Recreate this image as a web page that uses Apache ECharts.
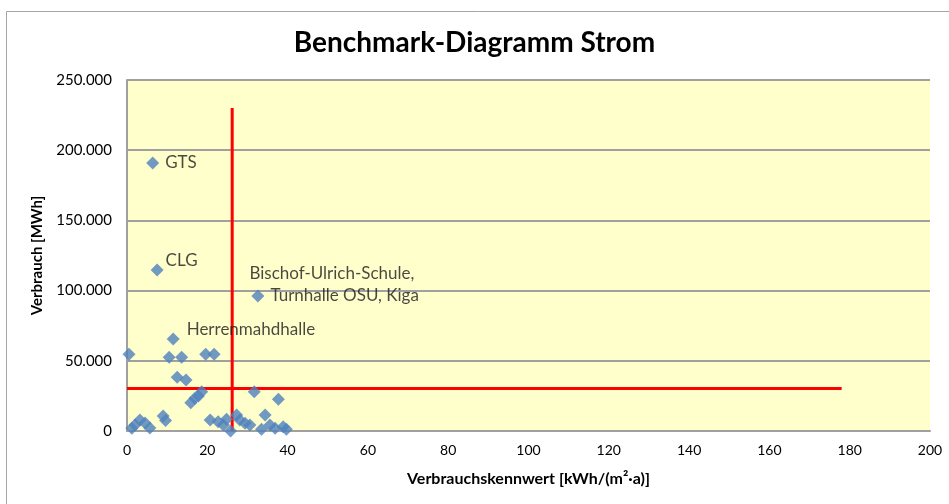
<!DOCTYPE html>
<html><head><meta charset="utf-8">
<script src="https://cdn.jsdelivr.net/npm/echarts@6/dist/echarts.min.js"></script>
<style>html,body{margin:0;padding:0;background:#fff}#c{width:949px;height:504px}</style>
</head><body><div id="c"></div>
<script>
// Data
const kennwert = [0.5,11.5,10.5,13.6,19.6,21.7,12.5,14.7,15.9,16.9,17.8,18.6,9.0,9.6,1.2,2.0,3.2,4.5,5.7,20.7,22.7,24.0,24.8,25.8,27.3,28.1,29.4,30.6,31.7,37.7,34.4,33.5,35.6,36.9,38.9,39.7,6.4,7.5,32.6];
const verbrauch = [54600,65500,52500,52500,54600,54600,38200,36300,20200,23300,25000,28000,10700,7400,2000,4300,7800,5700,2100,7800,6600,4300,8300,0,11400,7800,5500,4300,28000,22600,11400,1200,4300,1900,3000,1200,190900,114700,96200];
const namen = ['', 'Herrenmahdhalle','','','','','','','','','','','','','','','','','','','','','','','','','','','','','','','','','','','GTS','CLG','Bischof-Ulrich-Schule,|Turnhalle OSU, Kiga'];
const grenzKennwert = [[26.2,0],[26.2,230000]];
const grenzVerbrauch = [[0,30300],[178,30300]];
const xTicks = [0,20,40,60,80,100,120,140,160,180,200];
const yTicks = [0,50000,100000,150000,200000,250000];

const FONT = 'Lato, sans-serif';
const labelPos = {
  'GTS': [19, 6.5],
  'CLG': [15, -3],
  'Herrenmahdhalle': [20, -3],
  'Bischof-Ulrich-Schule,|Turnhalle OSU, Kiga': [-2, -5]
};

const pts = kennwert.map((x,i)=>{
  const item = {value:[x, verbrauch[i]], name: namen[i]};
  if (namen[i]) {
    const parts = namen[i].split('|');
    const lbl = {show:true, position: labelPos[namen[i]], align:'left', verticalAlign:'middle',
      color:'#1a1a1a', fontSize:17, fontFamily:FONT, lineHeight:22};
    if (parts.length > 1) {
      lbl.formatter = '{a|' + parts[0] + '}\n{b|' + parts[1] + '}';
      lbl.rich = {a:{fontSize:17, fontFamily:FONT, color:'#1a1a1a', lineHeight:22},
                  b:{fontSize:17, fontFamily:FONT, color:'#1a1a1a', lineHeight:22, padding:[0,0,0,21]}};
    } else {
      lbl.formatter = '{b}';
    }
    item.label = lbl;
  }
  return item;
});

const fmt = v => String(v).replace(/\B(?=(\d{3})+(?!\d))/g, '.');

const chart = echarts.init(document.getElementById('c'));
chart.setOption({
  animation:false,
  backgroundColor:'#fff',
  title:{text:'Benchmark-Diagramm Strom', left:'center', top:24,
    textStyle:{fontFamily:FONT, fontWeight:'bold', fontSize:28, color:'#000'}},
  graphic:[{type:'rect', left:4, top:9, shape:{width:960, height:520}, style:{fill:'none', stroke:'#a6a6a6', lineWidth:1}, z:-1}],
  grid:{left:127, top:80, right:19, bottom:73, show:true, backgroundColor:'#FFFFCC', borderWidth:0},
  xAxis:{type:'value', min:xTicks[0], max:xTicks[xTicks.length-1], interval:20,
    name:'Verbrauchskennwert [kWh/(m²·a)]', nameLocation:'middle', nameGap:40,
    nameTextStyle:{fontFamily:FONT, fontWeight:'bold', fontSize:16, color:'#000'},
    axisLine:{show:true, onZero:false, lineStyle:{color:'#a0a0a0', width:2}}, axisTick:{show:false},
    axisLabel:{fontFamily:FONT, fontSize:14, color:'#000', margin:12},
    splitLine:{show:false}},
  yAxis:{type:'value', min:yTicks[0], max:yTicks[yTicks.length-1], interval:50000,
    name:'Verbrauch [MWh]', nameLocation:'middle', nameGap:82, nameRotate:90,
    nameTextStyle:{fontFamily:FONT, fontWeight:'bold', fontSize:15, color:'#000'},
    axisLine:{show:true, lineStyle:{color:'#a0a0a0', width:2}}, axisTick:{show:false},
    axisLabel:{fontFamily:FONT, fontSize:15, color:'#000', margin:15, formatter:fmt},
    splitLine:{show:true, lineStyle:{color:'#a0a0a0', width:2}}},
  series:[
    {type:'line', data:grenzKennwert, symbol:'none', lineStyle:{color:'#ff0000', width:3}, z:2, silent:true},
    {type:'line', data:grenzVerbrauch, symbol:'none', lineStyle:{color:'#ff0000', width:3}, z:2, silent:true},
    {type:'scatter', data:pts, symbol:'diamond', symbolSize:13, itemStyle:{color:'#4F81BD'}, z:3}
  ]
});
</script></body></html>
